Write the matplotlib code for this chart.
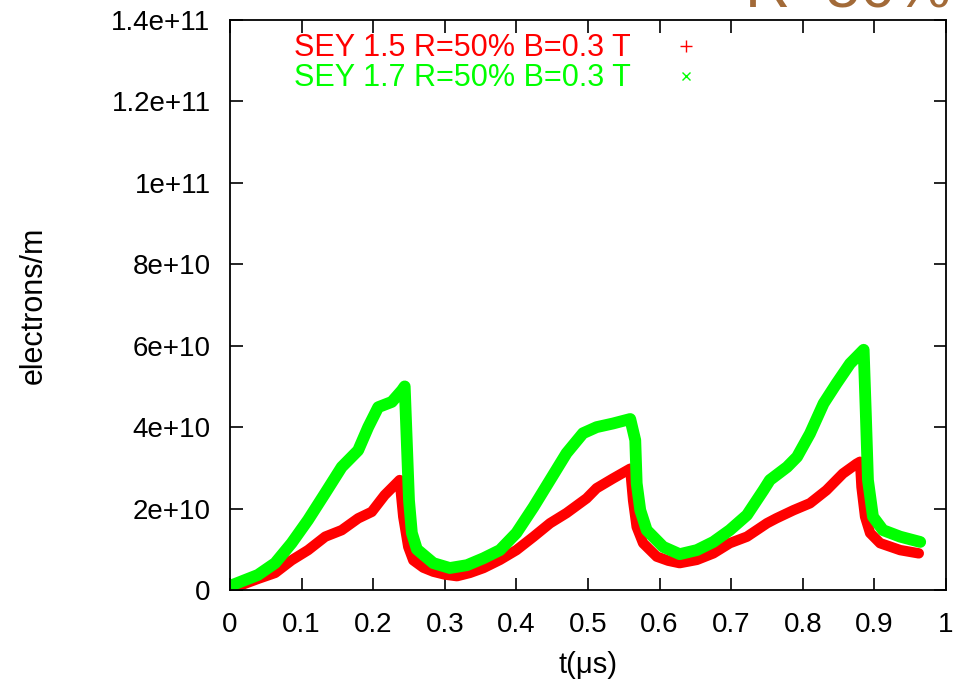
import matplotlib
matplotlib.use("Agg")
import matplotlib.pyplot as plt
from matplotlib.lines import Line2D
import numpy as np

plt.rcParams['font.family'] = ['Liberation Sans', 'DejaVu Sans']

# values, y in units of 1e10 electrons/m
red_t = [0.0, 0.02, 0.04, 0.063, 0.086, 0.109, 0.133, 0.156, 0.179, 0.198,
         0.216, 0.237, 0.242, 0.249, 0.256, 0.270, 0.284, 0.300, 0.317, 0.335,
         0.354, 0.377, 0.400, 0.424, 0.447, 0.470, 0.498, 0.512, 0.535, 0.559,
         0.563, 0.568, 0.577, 0.596, 0.612, 0.628, 0.652, 0.675, 0.698, 0.722,
         0.750, 0.763, 0.787, 0.810, 0.833, 0.856, 0.875, 0.880, 0.882, 0.887,
         0.894, 0.908, 0.936, 0.962]
red_y = [0.0, 0.15, 0.28, 0.42, 0.73, 0.98, 1.31, 1.47, 1.76, 1.92,
         2.33, 2.70, 1.80, 1.06, 0.73, 0.55, 0.45, 0.38, 0.34, 0.42,
         0.54, 0.74, 0.98, 1.31, 1.64, 1.89, 2.25, 2.50, 2.74, 2.98,
         2.20, 1.55, 1.15, 0.82, 0.72, 0.66, 0.74, 0.90, 1.15, 1.31,
         1.64, 1.76, 1.96, 2.13, 2.45, 2.86, 3.10, 3.15, 2.53, 1.80,
         1.40, 1.15, 0.98, 0.90]

green_t = [0.0, 0.039, 0.063, 0.086, 0.109, 0.133, 0.156, 0.179, 0.193, 0.207,
           0.226, 0.240, 0.244, 0.247, 0.250, 0.254, 0.261, 0.284, 0.307, 0.331,
           0.354, 0.377, 0.400, 0.424, 0.447, 0.470, 0.493, 0.512, 0.535, 0.559,
           0.566, 0.568, 0.573, 0.582, 0.605, 0.628, 0.652, 0.675, 0.698, 0.722,
           0.745, 0.754, 0.778, 0.792, 0.810, 0.829, 0.847, 0.866, 0.880, 0.885,
           0.888, 0.891, 0.898, 0.912, 0.936, 0.964]
green_y = [0.10, 0.37, 0.66, 1.15, 1.72, 2.38, 3.02, 3.43, 4.00, 4.49,
           4.62, 4.90, 5.00, 3.60, 2.20, 1.40, 1.00, 0.66, 0.54, 0.61,
           0.78, 0.98, 1.40, 2.04, 2.70, 3.36, 3.85, 4.00, 4.09, 4.20,
           3.68, 2.62, 1.96, 1.47, 1.06, 0.88, 0.98, 1.18, 1.47, 1.84,
           2.45, 2.70, 3.02, 3.27, 3.84, 4.58, 5.07, 5.56, 5.81, 5.90,
           4.34, 2.70, 1.80, 1.47, 1.31, 1.18]

labels = ["SEY 1.5 R=50% B=0.3 T", "SEY 1.7 R=50% B=0.3 T"]
x_ticks = [0, 0.1, 0.2, 0.3, 0.4, 0.5, 0.6, 0.7, 0.8, 0.9, 1]
x_ticklabels = ["0", "0.1", "0.2", "0.3", "0.4", "0.5", "0.6", "0.7", "0.8", "0.9", "1"]
y_ticks = [0, 2e10, 4e10, 6e10, 8e10, 1e11, 1.2e11, 1.4e11]
y_ticklabels = ["0", "2e+10", "4e+10", "6e+10", "8e+10", "1e+11", "1.2e+11", "1.4e+11"]

RED = "#ff0000"
GREEN = "#00ff00"

fig = plt.figure(figsize=(9.67, 6.82), dpi=100)
ax = fig.add_axes([230 / 967, 1 - 590 / 682, 716 / 967, 570 / 682])

ax.plot(red_t, np.array(red_y) * 1e10, color=RED, lw=7.5, solid_joinstyle='round',
        solid_capstyle='round')
ax.plot(green_t, np.array(green_y) * 1e10, color=GREEN, lw=8.5, solid_joinstyle='round',
        solid_capstyle='round')

ax.set_xlim(0, 1)
ax.set_ylim(0, 1.4e11)
ax.set_xticks(x_ticks)
ax.set_xticklabels(x_ticklabels)
ax.set_yticks(y_ticks)
ax.set_yticklabels(y_ticklabels)
ax.tick_params(direction='in', length=9, width=1.2, top=True, right=True,
               labelsize=20, colors='black')
ax.tick_params(axis='x', pad=16)
ax.tick_params(axis='y', pad=14)
for s in ax.spines.values():
    s.set_linewidth(1.3)

ax.set_xlabel("t(\u03bcs)", fontsize=21, labelpad=9)
fig.text(34 / 967, 1 - 305 / 682, "electrons/m", rotation=90, fontsize=22,
         ha='center', va='center')

handles = [Line2D([], [], ls='none', marker='+', color=RED, ms=8, mew=1),
           Line2D([], [], ls='none', marker='x', color=GREEN, ms=6, mew=1)]
leg = ax.legend(handles, labels, loc='upper left', bbox_to_anchor=(279 / 967, 1 - 18 / 682),
                bbox_transform=fig.transFigure, frameon=False, markerfirst=False,
                fontsize=22, handlelength=2, handletextpad=0.8, labelspacing=0.0,
                borderpad=0, labelcolor='linecolor')

fig.text(745 / 967, 1 - 8 / 682, "R=50%", fontsize=45, color="#a26a38",
         ha='left', va='baseline')

fig.savefig("out.png", dpi=100)
